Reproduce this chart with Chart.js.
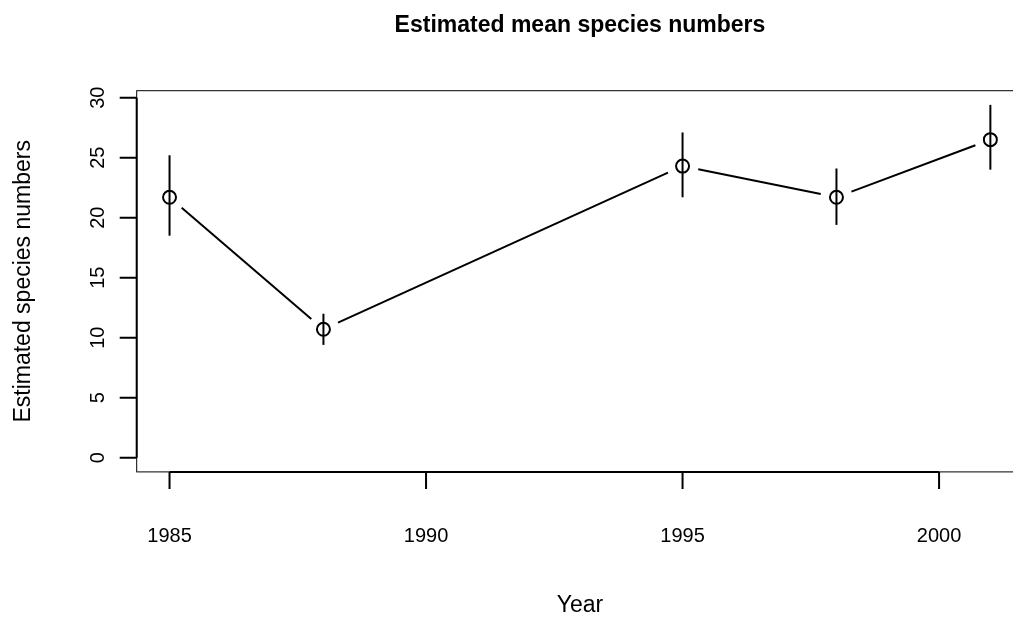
<!DOCTYPE html>
<html>
<head>
<meta charset="utf-8">
<script src="https://cdn.jsdelivr.net/npm/chart.js@4/dist/chart.umd.min.js"></script>
<style>
  html, body { margin: 0; padding: 0; background: #fff; overflow: hidden; }
  #wrap { width: 1040px; height: 617px; }
</style>
</head>
<body>
<div id="wrap"><canvas id="myChart" width="1040" height="617"></canvas></div>
<script>
// values
var years = [1985, 1988, 1995, 1998, 2001];
var means = [21.7, 10.7, 24.3, 21.7, 26.5];
var lower = [18.5, 9.4, 21.7, 19.4, 24.0];
var upper = [25.2, 12.0, 27.1, 24.1, 29.4];
var xTicks = [1985, 1990, 1995, 2000];
var yTicks = [0, 5, 10, 15, 20, 25, 30];

var FONT = '"Liberation Sans", Arial, Helvetica, sans-serif';

var rPlot = {
    id: 'rPlot',
    afterDatasetsDraw: function (chart) {
        var c = chart.ctx, xs = chart.scales.x, ys = chart.scales.y;
        c.save();
        c.strokeStyle = '#000';
        c.lineWidth = 2;
        c.lineCap = 'butt';
        // error bars
        for (var i = 0; i < years.length; i++) {
            var px = xs.getPixelForValue(years[i]);
            c.beginPath();
            c.moveTo(px, ys.getPixelForValue(lower[i]));
            c.lineTo(px, ys.getPixelForValue(upper[i]));
            c.stroke();
        }
        // connecting segments with a gap around each point (type = "b")
        var gap = 16;
        for (var j = 0; j < years.length - 1; j++) {
            var x1 = xs.getPixelForValue(years[j]), y1 = ys.getPixelForValue(means[j]);
            var x2 = xs.getPixelForValue(years[j + 1]), y2 = ys.getPixelForValue(means[j + 1]);
            var dx = x2 - x1, dy = y2 - y1, len = Math.sqrt(dx * dx + dy * dy);
            if (len <= 2 * gap) continue;
            var ux = dx / len, uy = dy / len;
            c.beginPath();
            c.moveTo(x1 + ux * gap, y1 + uy * gap);
            c.lineTo(x2 - ux * gap, y2 - uy * gap);
            c.stroke();
        }
        c.restore();
    },
    afterDraw: function (chart) {
        var c = chart.ctx, a = chart.chartArea, xs = chart.scales.x, ys = chart.scales.y;
        c.save();
        c.strokeStyle = '#000';
        c.fillStyle = '#000';
        // box
        c.lineWidth = 1;
        c.strokeRect(a.left, a.top, a.right - a.left, a.bottom - a.top);
        // axis lines
        c.lineWidth = 2;
        c.beginPath();
        c.moveTo(xs.getPixelForValue(xTicks[0]), a.bottom);
        c.lineTo(xs.getPixelForValue(xTicks[xTicks.length - 1]), a.bottom);
        c.moveTo(a.left, ys.getPixelForValue(yTicks[0]));
        c.lineTo(a.left, ys.getPixelForValue(yTicks[yTicks.length - 1]));
        c.stroke();
        // ticks
        var tl = 17;
        c.beginPath();
        xTicks.forEach(function (v) {
            var px = xs.getPixelForValue(v);
            c.moveTo(px, a.bottom);
            c.lineTo(px, a.bottom + tl);
        });
        yTicks.forEach(function (v) {
            var py = ys.getPixelForValue(v);
            c.moveTo(a.left, py);
            c.lineTo(a.left - tl, py);
        });
        c.stroke();
        // tick labels
        c.font = '20px ' + FONT;
        c.textAlign = 'center';
        c.textBaseline = 'alphabetic';
        xTicks.forEach(function (v) {
            c.fillText(String(v), xs.getPixelForValue(v), 542);
        });
        yTicks.forEach(function (v) {
            c.save();
            c.translate(103.5, ys.getPixelForValue(v));
            c.rotate(-Math.PI / 2);
            c.fillText(String(v), 0, 0);
            c.restore();
        });
        var cx = (a.left + a.right) / 2;
        // title
        c.font = 'bold 23px ' + FONT;
        c.fillText('Estimated mean species numbers', cx, 31.5);
        // axis titles
        c.font = '23px ' + FONT;
        c.fillText('Year', cx, 612);
        c.save();
        c.translate(30, (a.top + a.bottom) / 2);
        c.rotate(-Math.PI / 2);
        c.fillText('Estimated species numbers', 0, 0);
        c.restore();
        c.restore();
    }
};

document.addEventListener('DOMContentLoaded', function () {
    var ctx = document.getElementById('myChart').getContext('2d');
    var points = years.map(function (y, i) { return { x: y, y: means[i] }; });
    var myChart = new Chart(ctx, {
        type: 'line',
        data: {
            datasets: [{
                label: 'Estimated mean',
                data: points,
                showLine: false,
                pointStyle: 'circle',
                pointRadius: 6.5,
                pointBorderWidth: 2,
                pointBorderColor: '#000',
                pointBackgroundColor: 'rgba(0,0,0,0)'
            }]
        },
        options: {
            responsive: false,
            animation: false,
            devicePixelRatio: 1,
            layout: {
                padding: { left: 136.7, top: 90.7, right: 16.8, bottom: 145.1 }
            },
            plugins: {
                legend: { display: false },
                title: { display: false },
                tooltip: { enabled: false }
            },
            scales: {
                x: { type: 'linear', display: false, min: 1984.36, max: 2001.64 },
                y: { type: 'linear', display: false, min: -1.18, max: 30.58 }
            }
        },
        plugins: [rPlot]
    });
});
</script>
</body>
</html>
